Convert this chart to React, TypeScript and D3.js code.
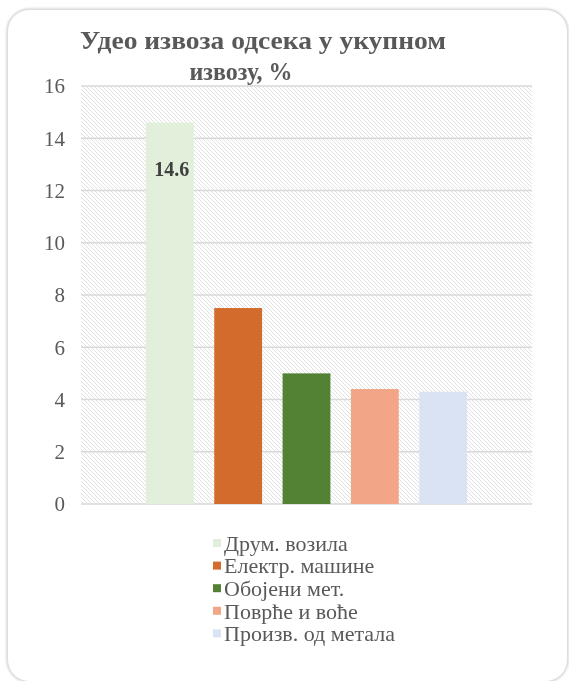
import { useEffect, useRef } from 'react'
import * as d3 from 'd3'

const categories = ['Друм. возила', 'Електр. машине', 'Обојени мет.', 'Поврће и воће', 'Произв. од метала']
const shares = [14.6, 7.5, 5.0, 4.4, 4.3]
const yTicks = [0, 2, 4, 6, 8, 10, 12, 14, 16]
const titleLines = ['Удео извоза одсека у укупном', 'извозу, %']
const labelled = ['Друм. возила']

const barColors = ['#e2efda', '#d26b2b', '#548235', '#f2a687', '#dae3f3']
const FONT = "'Liberation Serif', 'Times New Roman', Times, serif"

export default function App() {
  const svgRef = useRef<SVGSVGElement>(null)

  useEffect(() => {
    if (!svgRef.current) return
    const svg = d3.select(svgRef.current)
    svg.selectAll('*').remove()

    const plot = { left: 81, right: 532, top: 86, bottom: 504 }

    const x = d3.scaleBand<string>().domain(categories).range([plot.left, plot.right])
      .paddingInner(0.3).paddingOuter(0.95)
    const y = d3.scaleLinear().domain([0, 16]).range([plot.bottom, plot.top])
    const color = d3.scaleOrdinal<string, string>().domain(categories).range(barColors)

    // hatch pattern for the plot area
    const defs = svg.append('defs')
    const pat = defs.append('pattern').attr('id', 'hatch').attr('patternUnits', 'userSpaceOnUse')
      .attr('width', 4).attr('height', 4)
    pat.append('rect').attr('width', 4).attr('height', 4).attr('fill', '#ffffff')
    pat.append('path').attr('d', 'M-1,-1 L5,5 M-1,3 L1,5 M3,-1 L5,1')
      .attr('stroke', '#dedede').attr('stroke-width', 0.9)

    const shadow = defs.append('filter').attr('id', 'soft').attr('x', '-5%').attr('y', '-5%')
      .attr('width', '110%').attr('height', '110%')
    shadow.append('feGaussianBlur').attr('stdDeviation', 1.2)

    // card
    const card = { x: 7.5, y: 9.5, w: 560, h: 672 }
    svg.append('rect').attr('x', card.x).attr('y', card.y).attr('width', card.w).attr('height', card.h)
      .attr('rx', 22).attr('fill', 'none').attr('stroke', '#cccccc').attr('stroke-width', 2)
      .attr('filter', 'url(#soft)')
    svg.append('rect').attr('x', card.x).attr('y', card.y).attr('width', card.w).attr('height', card.h)
      .attr('rx', 22).attr('fill', '#ffffff').attr('stroke', '#dcdcdc').attr('stroke-width', 1)

    // title
    const title = svg.append('g').style('font-family', FONT).attr('font-weight', 'bold')
      .attr('fill', '#595959').attr('font-size', 26).attr('text-anchor', 'middle')
    title.append('text').attr('x', 263).attr('y', 49).attr('textLength', 366)
      .attr('lengthAdjust', 'spacingAndGlyphs').text(titleLines[0])
    title.append('text').attr('x', 241).attr('y', 80).attr('textLength', 103)
      .attr('lengthAdjust', 'spacingAndGlyphs').text(titleLines[1])

    // plot background
    svg.append('rect').attr('x', plot.left).attr('y', plot.top)
      .attr('width', plot.right - plot.left).attr('height', plot.bottom - plot.top)
      .attr('fill', 'url(#hatch)')

    // grid
    svg.append('g').selectAll('line').data(yTicks).join('line')
      .attr('x1', plot.left).attr('x2', plot.right)
      .attr('y1', d => y(d)).attr('y2', d => y(d))
      .attr('stroke', '#d9d9d9').attr('stroke-width', 1.5)

    // y tick labels
    svg.append('g').style('font-family', FONT).selectAll('text').data(yTicks).join('text')
      .attr('x', 65).attr('y', d => y(d)).attr('dy', '0.35em')
      .attr('text-anchor', 'end').attr('font-size', 21)
      .attr('fill', '#595959').text(d => d)

    // bars
    svg.append('g').selectAll('rect').data(categories).join('rect')
      .attr('x', d => x(d)!).attr('width', x.bandwidth())
      .attr('y', (_, i) => y(shares[i])).attr('height', (_, i) => y(0) - y(shares[i]))
      .attr('fill', d => color(d))

    // data label
    svg.append('g').style('font-family', FONT).selectAll('text').data(labelled).join('text')
      .attr('x', d => x(d)! + x.bandwidth() / 2 + 2)
      .attr('y', d => y(shares[categories.indexOf(d)]) + 46)
      .attr('dy', '0.35em').attr('text-anchor', 'middle')
      .attr('font-weight', 'bold').attr('font-size', 20)
      .attr('fill', '#404040').text(d => shares[categories.indexOf(d)].toFixed(1))

    // legend
    const leg = svg.append('g').style('font-family', FONT).attr('transform', 'translate(213,543)')
    const row = leg.selectAll('g').data(categories).join('g')
      .attr('transform', (_, i) => `translate(0,${i * 22.6})`)
    row.append('rect').attr('x', 0).attr('y', -4).attr('width', 8).attr('height', 8)
      .attr('fill', d => color(d))
    row.append('text').attr('x', 11).attr('y', 0).attr('dy', '0.35em')
      .attr('font-size', 22).attr('fill', '#595959').text(d => d)
  }, [])

  return (
    <svg ref={svgRef} width={569} height={681}
      style={{ position: 'fixed', left: 0, top: 0, display: 'block' }} />
  )
}
